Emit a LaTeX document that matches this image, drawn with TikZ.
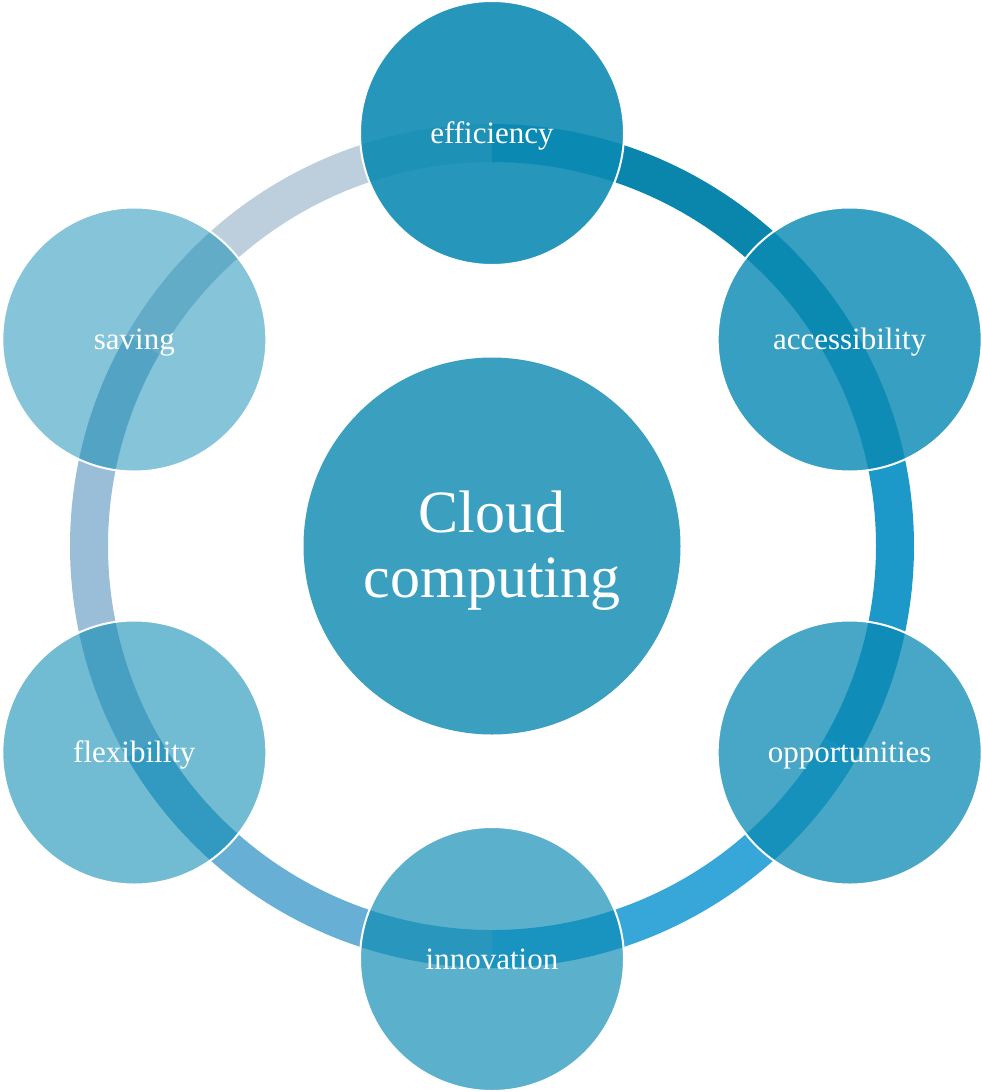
\documentclass[tikz,border=0pt]{standalone}
\usepackage{fontspec}
\setmainfont{Liberation Serif}
\definecolor{ringA}{HTML}{0A86AD}
\definecolor{ringB}{HTML}{1C98C9}
\definecolor{ringC}{HTML}{37A6D8}
\definecolor{ringD}{HTML}{68AFD5}
\definecolor{ringE}{HTML}{9ABED7}
\definecolor{ringF}{HTML}{BDCFDD}
\definecolor{sat}{RGB}{11,138,179}
\definecolor{hub}{RGB}{59,160,192}
\tikzset{
  ringseg/.style={line width=38pt},
  satnode/.style={circle, minimum size=264pt, inner sep=0pt, draw=white, line width=2pt,
    fill=sat, fill opacity=#1, draw opacity=1, text opacity=1, text=white,
    font=\fontsize{31}{34}\selectfont, text height=22pt, text depth=2pt},
  hubnode/.style={circle, minimum size=377pt, inner sep=0pt, fill=hub, text=white,
    align=center, font=\fontsize{60}{65}\selectfont, text depth=4pt}
}
\begin{document}
\begin{tikzpicture}[x=1pt,y=1pt]
\useasboundingbox (0,0) rectangle (982,-1092);
\coordinate (c) at (492,-546);
% ring segments
\draw[ringseg, ringA] ([shift={(90:403)}]c) arc[start angle=90, end angle=30, radius=403];
\draw[ringseg, ringB] ([shift={(30:403)}]c) arc[start angle=30, end angle=-30, radius=403];
\draw[ringseg, ringC] ([shift={(-30:403)}]c) arc[start angle=-30, end angle=-90, radius=403];
\draw[ringseg, ringD] ([shift={(-90:403)}]c) arc[start angle=-90, end angle=-150, radius=403];
\draw[ringseg, ringE] ([shift={(210:403)}]c) arc[start angle=210, end angle=150, radius=403];
\draw[ringseg, ringF] ([shift={(150:403)}]c) arc[start angle=150, end angle=90, radius=403];
% satellites
\node[satnode=0.89] (eff) at ([shift={(90:413)}]c) {efficiency};
\node[satnode=0.82] (acc) at ([shift={(30:413)}]c) {accessibility};
\node[satnode=0.75] (opp) at ([shift={(-30:413)}]c) {opportunities};
\node[satnode=0.67] (inn) at ([shift={(-90:413)}]c) {innovation};
\node[satnode=0.58] (flex) at ([shift={(210:413)}]c) {flexibility};
\node[satnode=0.50] (sav) at ([shift={(150:413)}]c) {saving};
% hub
\node[hubnode] (hubc) at (c) {Cloud\\computing};
\end{tikzpicture}
\end{document}
